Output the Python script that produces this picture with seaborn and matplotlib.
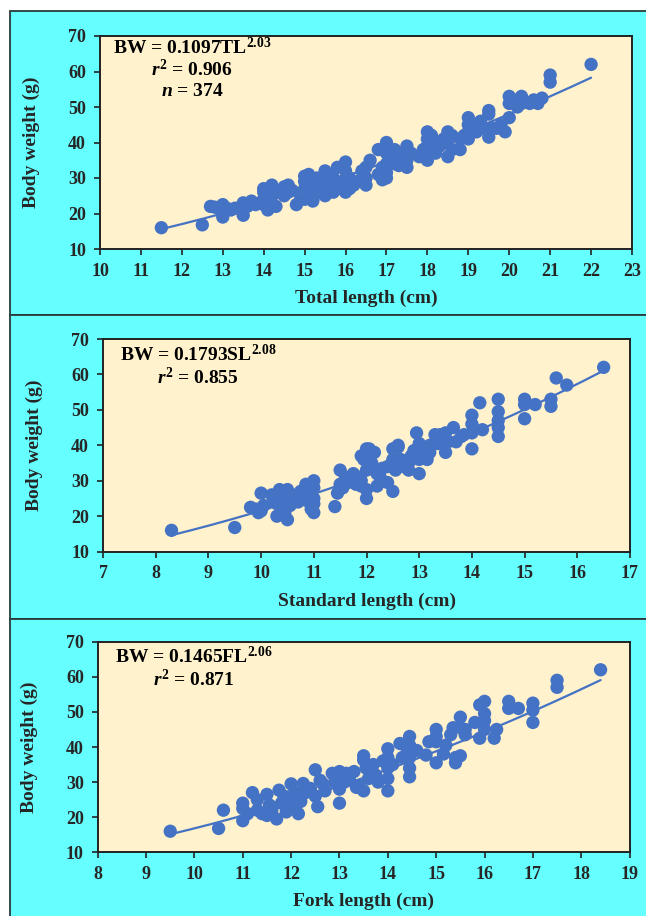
import matplotlib
matplotlib.use("Agg")
import matplotlib.pyplot as plt
import numpy as np
import pandas as pd
import seaborn as sns
from matplotlib.patches import Rectangle

# ---- Total length vs body weight ----
tl_len = [11.5, 12.5, 12.7, 12.8, 12.9, 13.0, 13.0, 13.0, 13.1, 13.2, 13.3,
          13.5, 13.5, 13.5, 13.6, 13.7, 13.8, 13.9,
          14.0, 14.0, 14.0, 14.0, 14.1, 14.1, 14.2, 14.2, 14.2, 14.3, 14.3, 14.1, 14.2,
          14.5, 14.5, 14.6, 14.6, 14.7, 14.8, 14.9,
          15.0, 15.0, 15.0, 15.0, 15.0, 15.1, 15.1, 15.2, 15.2, 15.3, 15.3, 15.2,
          15.4, 15.5, 15.5, 15.5, 15.6, 15.6, 15.7, 15.7, 15.5,
          15.8, 15.8, 15.9, 16.0, 16.0, 16.0, 16.0, 16.1, 16.1,
          16.2, 16.3, 16.4, 16.5, 16.5, 16.6, 16.5,
          16.8, 16.8, 16.9, 17.0, 17.0, 17.0, 17.0, 17.0, 17.1, 16.9,
          17.2, 17.2, 17.3, 17.4, 17.5, 17.5, 17.5, 17.6, 17.3,
          17.8, 17.9, 18.0, 18.0, 18.0, 18.0, 18.0, 18.1, 18.1, 18.2, 18.2,
          18.3, 18.4, 18.5, 18.5, 18.5, 18.6, 18.6,
          18.8, 18.8, 18.9, 19.0, 19.0, 19.0, 19.0, 19.1,
          19.2, 19.3, 19.4, 19.5, 19.5, 19.5, 19.5, 19.6,
          19.7, 19.8, 19.9, 20.0, 20.0, 20.0, 20.1, 20.2,
          20.3, 20.3, 20.5, 20.6, 20.7, 20.8, 21.0, 21.0, 22.0]
tl_bw = [16.0, 16.8, 22.0, 21.8, 21.5, 22.5, 20.0, 19.0, 21.5, 21.0, 21.5,
         19.5, 22.0, 23.0, 22.0, 23.5, 22.5, 23.0,
         26.0, 24.0, 22.5, 27.0, 25.0, 21.0, 28.0, 27.0, 23.0, 22.0, 26.0, 23.5, 25.5,
         27.5, 25.0, 28.0, 26.0, 26.5, 22.5, 24.0,
         30.5, 29.0, 27.0, 25.0, 24.0, 31.0, 26.0, 28.0, 24.0, 30.0, 26.0, 23.5,
         27.0, 32.0, 29.0, 25.5, 28.0, 31.0, 26.0, 30.0, 25.0,
         33.0, 27.0, 29.0, 34.5, 32.0, 28.0, 26.0, 30.0, 27.0,
         28.0, 29.0, 32.0, 33.0, 30.0, 35.0, 28.0,
         38.0, 31.0, 33.0, 40.0, 37.0, 34.0, 30.0, 31.5, 35.0, 29.5,
         38.0, 34.0, 36.0, 37.0, 39.0, 35.0, 33.0, 37.0, 33.5,
         36.0, 38.0, 43.0, 41.0, 39.0, 37.0, 35.0, 42.0, 38.0, 40.0, 37.0,
         39.0, 41.0, 43.0, 40.0, 36.0, 38.0, 42.0,
         41.0, 38.0, 42.0, 47.0, 45.0, 43.0, 41.0, 44.0,
         43.0, 46.0, 44.0, 49.0, 48.0, 43.0, 41.5, 44.0,
         44.0, 45.0, 43.0, 47.0, 53.0, 51.0, 52.0, 50.0,
         53.0, 51.0, 51.0, 52.0, 51.0, 52.5, 59.0, 57.0, 62.0]

# ---- Standard length vs body weight ----
sl_len = [8.3, 9.5, 9.8, 9.9, 9.95, 10.0, 10.0, 10.05,
          10.2, 10.25, 10.3, 10.3, 10.35, 10.4, 10.4, 10.45, 10.5, 10.5, 10.5, 10.55, 10.6,
          10.7, 10.75, 10.8, 10.85, 10.85, 10.9, 10.95, 11.0, 11.0, 11.0, 11.0, 11.0,
          11.4, 11.45, 11.5, 11.5, 11.55, 11.6, 11.65, 11.7, 11.75, 11.8, 11.8, 11.85,
          11.9, 11.9, 11.95, 11.9,
          12.0, 12.0, 12.0, 12.0, 12.05, 12.1, 12.15, 12.2, 12.2, 12.25, 12.3, 12.3,
          12.4, 12.4, 12.5, 12.5, 12.5, 12.55, 12.6, 12.6, 12.65, 12.7, 12.8, 12.8,
          12.85, 12.9, 12.95, 13.0, 13.0, 13.0, 13.05, 13.1, 13.15, 13.2, 13.2,
          13.3, 13.35, 13.4, 13.45, 13.5, 13.5, 13.55, 13.65, 13.7, 13.8, 13.85,
          14.0, 14.0, 14.0, 14.0, 14.15, 14.2, 14.5, 14.5, 14.5, 14.5, 14.5,
          15.0, 15.0, 15.0, 15.2, 15.5, 15.5, 15.6, 15.8, 16.5]
sl_bw = [16.0, 16.8, 22.5, 22.0, 21.0, 21.5, 26.5, 23.0,
         26.0, 24.0, 20.0, 23.5, 27.5, 22.5, 25.0, 21.0, 19.0, 27.5, 25.5, 23.0, 26.0,
         24.0, 27.0, 25.5, 29.0, 24.5, 26.5, 22.0, 30.0, 28.0, 21.0, 25.0, 23.5,
         22.7, 26.5, 33.0, 29.0, 28.0, 31.0, 29.5, 30.0, 32.0, 31.0, 29.0, 31.0,
         30.0, 28.5, 36.0, 37.0,
         39.0, 25.0, 27.5, 33.0, 39.0, 35.0, 38.0, 28.5, 32.0, 31.3, 33.5, 30.0,
         34.0, 29.5, 27.0, 39.0, 36.0, 33.0, 40.0, 39.5, 36.0, 34.0, 35.0, 33.0,
         37.0, 38.5, 43.5, 40.5, 32.0, 36.0, 39.0, 38.5, 36.0, 38.0, 40.0,
         43.0, 40.5, 43.0, 41.5, 43.5, 38.0, 41.0, 45.0, 41.0, 42.5, 43.0,
         48.5, 46.0, 43.5, 39.0, 52.0, 44.4, 53.0, 49.5, 47.0, 45.0, 42.5,
         53.0, 51.5, 47.5, 51.5, 53.0, 51.0, 59.0, 57.0, 62.0]

# ---- Fork length vs body weight ----
fl_len = [9.5, 10.5, 10.6,
          11.0, 11.0, 11.0, 11.1, 11.2, 11.3, 11.3, 11.4, 11.5, 11.5, 11.55, 11.6, 11.7,
          11.75, 11.8, 11.85, 11.9, 12.0, 12.0, 12.0, 12.1, 12.15, 12.2, 12.25, 12.3,
          12.4, 12.5, 12.5, 12.55, 12.6, 12.65, 12.7, 12.85, 12.9, 13.0, 13.0, 13.0,
          13.0, 13.1, 13.14, 13.2, 13.2, 13.3, 13.35, 13.4, 13.5, 13.5, 13.5, 13.55,
          13.6, 13.6, 13.7, 13.75, 13.8, 13.9, 14.0, 14.0, 14.0, 14.0, 14.0, 14.1,
          14.25, 14.3, 14.4, 14.45, 14.45, 14.45, 14.45, 14.45, 14.6, 14.79, 14.85,
          15.0, 15.0, 15.0, 15.0, 15.15, 15.2, 15.3, 15.35, 15.4, 15.4, 15.5, 15.5,
          15.5, 15.6, 15.6, 15.8, 15.9, 15.9, 16.0, 16.0, 16.0, 16.0, 16.2, 16.25,
          16.5, 16.5, 16.7, 17.0, 17.0, 17.0, 17.5, 17.5, 18.4]
fl_bw = [16.0, 16.8, 22.0,
         24.0, 19.0, 22.5, 21.0, 27.0, 25.0, 22.0, 21.0, 26.5, 20.5, 23.5, 22.0, 19.5,
         27.7, 24.0, 26.0, 21.5, 29.5, 23.0, 26.0, 26.8, 21.0, 24.5, 29.6, 27.0,
         28.2, 33.5, 26.0, 23.0, 30.5, 29.6, 27.5, 32.5, 30.0, 33.0, 24.0, 28.0,
         31.0, 30.0, 32.5, 31.0, 30.6, 33.0, 28.5, 29.0, 37.5, 36.3, 27.5, 34.0,
         34.0, 31.0, 35.0, 32.0, 30.0, 36.0, 39.5, 34.0, 31.0, 27.5, 37.0, 35.0,
         41.0, 37.0, 38.5, 43.0, 40.5, 37.0, 34.0, 31.5, 39.0, 37.7, 41.5,
         45.0, 41.5, 35.5, 43.0, 38.0, 40.5, 43.5, 45.5, 37.0, 35.5, 48.5, 45.5,
         37.5, 45.0, 43.5, 47.0, 52.0, 42.5, 53.0, 49.5, 47.5, 45.0, 42.5, 45.0,
         53.0, 51.0, 51.0, 52.5, 50.5, 47.0, 59.0, 57.0, 62.0]

# Fitted power relationships BW = a * L^b
fits = [
    dict(x=tl_len, y=tl_bw, a=0.1097, b=2.03, code="TL", r2="0.906", n="374",
         xlim=(10, 23), xlabel="Total length (cm)"),
    dict(x=sl_len, y=sl_bw, a=0.1793, b=2.08, code="SL", r2="0.855", n=None,
         xlim=(7, 17), xlabel="Standard length (cm)"),
    dict(x=fl_len, y=fl_bw, a=0.1465, b=2.06, code="FL", r2="0.871", n=None,
         xlim=(8, 19), xlabel="Fork length (cm)"),
]

sns.set_style("ticks")
plt.rcParams.update({
    "font.family": ["Liberation Serif", "DejaVu Serif"],
    "font.weight": "bold",
    "mathtext.fontset": "custom",
    "mathtext.rm": "Liberation Serif:bold",
    "mathtext.it": "Liberation Serif:italic:bold",
    "mathtext.default": "regular",
})

W, H = 646, 916
fig = plt.figure(figsize=(W / 100, H / 100), dpi=100)
fig.patch.set_facecolor("white")

CYAN = "#66FFFF"
BEIGE = "#FFF2CC"
BLUE = "#4472C4"
DARK = "#222222"

# panel frames (pixel boxes: top, bottom)
panel_boxes = [(11, 315), (315, 619), (619, 925)]
# axes boxes in pixels: left, right, top, bottom
axes_boxes = [(100, 632, 36, 249), (103, 630, 339, 551.6), (97.7, 629.6, 641.7, 852.3)]
text_pos = [(192, 47), (198, 355), (194, 657)]

for (ptop, pbot) in panel_boxes:
    fig.add_artist(Rectangle((10 / W, 1 - pbot / H), (W + 10) / W, (pbot - ptop) / H,
                             transform=fig.transFigure, facecolor=CYAN,
                             edgecolor="#2b3a3a", linewidth=1.3, zorder=-5))

for fit, (l, r, t, b), (tx, ty) in zip(fits, axes_boxes, text_pos):
    ax = fig.add_axes([l / W, 1 - b / H, (r - l) / W, (b - t) / H])
    ax.set_facecolor(BEIGE)
    df = pd.DataFrame({"L": fit["x"], "BW": fit["y"]})
    sns.scatterplot(data=df, x="L", y="BW", ax=ax, color=BLUE, s=92,
                    edgecolor="none", linewidth=0, zorder=3)
    xs = np.linspace(min(fit["x"]), max(fit["x"]), 200)
    curve = pd.DataFrame({"L": xs, "BW": fit["a"] * xs ** fit["b"]})
    sns.lineplot(data=curve, x="L", y="BW", ax=ax, color=BLUE, linewidth=1.6,
                 zorder=2)

    ax.set_xlim(*fit["xlim"])
    ax.set_ylim(10, 70)
    ax.set_xticks(np.arange(fit["xlim"][0], fit["xlim"][1] + 1, 1))
    ax.set_yticks(np.arange(10, 71, 10))
    ax.tick_params(axis="both", direction="out", length=4, width=1.2,
                   color=DARK, labelsize=13, pad=6)
    for lab in ax.get_xticklabels() + ax.get_yticklabels():
        lab.set_fontweight("bold")
    for sp in ax.spines.values():
        sp.set_visible(True)
        sp.set_color(DARK)
        sp.set_linewidth(1.4)
    ax.set_xlabel(fit["xlabel"], fontsize=14, fontweight="bold", labelpad=7)
    ax.set_ylabel("Body weight (g)", fontsize=14, fontweight="bold", labelpad=20)

    lines = [f"BW = {fit['a']:.4f}{fit['code']}$^{{{fit['b']:.2f}}}$",
             f"$\\mathit{{r}}^{{2}}$ = {fit['r2']}"]
    if fit["n"]:
        lines.append(f"$\\mathit{{n}}$ = {fit['n']}")
    for i, txt in enumerate(lines):
        fig.text(tx / W, 1 - (ty + i * 22.5) / H, txt, ha="center", va="center",
                 fontsize=14, fontweight="bold", color="black")

fig.savefig("out.png", dpi=100, facecolor=fig.get_facecolor())
